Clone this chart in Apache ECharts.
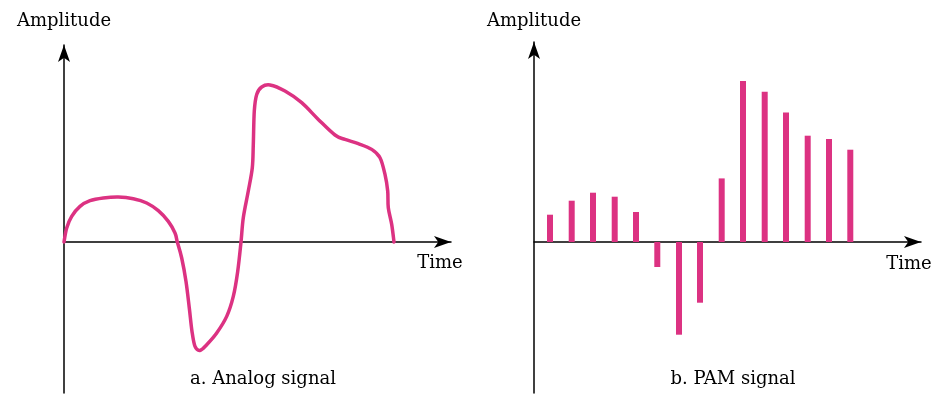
<!DOCTYPE html>
<html>
<head>
<meta charset="utf-8">
<style>
html,body{margin:0;padding:0;background:#fff;}
#chart{width:946px;height:404px;}
</style>
<script src="https://cdn.jsdelivr.net/npm/echarts@6/dist/echarts.min.js"></script>
</head>
<body>
<div id="chart"></div>
<script>
// Analog signal: [time, amplitude]
var analogTime = [0, 2.7, 7.7, 16, 26, 39.3, 54.3, 69.3, 82.7, 94.3, 104.3, 111, 113.3, 117.7, 122, 125.3, 128, 131, 136, 142.7, 152.7, 162.7, 169.3, 173.7, 177, 179.3, 184.3, 188.3, 189.3, 190.3, 192.7, 197.7, 206, 221, 237.7, 254.3, 271, 281, 294.3, 307.7, 316, 321, 323.7, 324.3, 327.7, 330];
var analogAmp  = [0, 14, 25.6, 35.6, 41.3, 44, 45, 43.3, 39, 31.3, 20.6, 9, 0, -16, -39.4, -66, -89.4, -104.4, -108.4, -102.7, -91, -74.4, -54.4, -29.4, 0, 24.3, 51, 74.3, 97.6, 131, 147.6, 155, 157, 151, 139.3, 122.6, 107, 102.6, 98.3, 92.6, 84.3, 67.6, 51, 34.3, 17.6, 0];
// PAM samples
var pamTime = [16, 37.7, 59, 80.7, 102, 123.3, 145, 166, 187.7, 209, 230.7, 252, 273.7, 295, 316.3];
var pamAmp  = [27.3, 41.3, 49.3, 45.3, 30, -25, -92.7, -60.7, 63.6, 161, 150.3, 129.6, 106.3, 103, 92.3];
var axisTitle = 'Amplitude';
var timeTitle = 'Time';
var captionA = 'a. Analog signal';
var captionB = 'b. PAM signal';

var pink = '#dc3282';
var font = 'DejaVu Serif';
var chart = echarts.init(document.getElementById('chart'), null, {renderer: 'canvas'});

function axisLine() {
  return {show: true, onZero: true, symbol: ['none', 'arrow'], symbolSize: [9, 17], lineStyle: {color: '#000', width: 1.5}};
}

// Smooth curve through the data points (Catmull-Rom), positioned by the axes
function renderAnalog(params, api) {
  var pts = analogTime.map(function (t, i) { return api.coord([t, analogAmp[i]]); });
  var n = pts.length;
  var d = 'M' + pts[0][0] + ' ' + pts[0][1];
  for (var i = 0; i < n - 1; i++) {
    var p0 = pts[Math.max(i - 1, 0)], p1 = pts[i], p2 = pts[i + 1], p3 = pts[Math.min(i + 2, n - 1)];
    var c1x = p1[0] + (p2[0] - p0[0]) / 6, c1y = p1[1] + (p2[1] - p0[1]) / 6;
    var c2x = p2[0] - (p3[0] - p1[0]) / 6, c2y = p2[1] - (p3[1] - p1[1]) / 6;
    d += ' C' + c1x + ' ' + c1y + ' ' + c2x + ' ' + c2y + ' ' + p2[0] + ' ' + p2[1];
  }
  return {
    type: 'path',
    shape: {pathData: d},
    style: {fill: null, stroke: pink, lineWidth: 3.5, lineJoin: 'round', lineCap: 'round'}
  };
}

chart.setOption({
  animation: false,
  grid: [
    {left: 64, top: 45, width: 387, height: 348},
    {left: 534, top: 42, width: 387, height: 351}
  ],
  xAxis: [
    {gridIndex: 0, type: 'value', min: 0, max: 387, axisLine: axisLine(), axisTick: {show: false}, axisLabel: {show: false}, splitLine: {show: false}},
    {gridIndex: 1, type: 'value', min: 0, max: 387, axisLine: axisLine(), axisTick: {show: false}, axisLabel: {show: false}, splitLine: {show: false}}
  ],
  yAxis: [
    {gridIndex: 0, type: 'value', min: -151, max: 197, name: axisTitle, nameLocation: 'end', nameGap: 15,
     nameTextStyle: {fontFamily: font, fontSize: 18, color: '#000'},
     axisLine: axisLine(), axisTick: {show: false}, axisLabel: {show: false}, splitLine: {show: false}},
    {gridIndex: 1, type: 'value', min: -151, max: 200, name: axisTitle, nameLocation: 'end', nameGap: 12,
     nameTextStyle: {fontFamily: font, fontSize: 18, color: '#000'},
     axisLine: axisLine(), axisTick: {show: false}, axisLabel: {show: false}, splitLine: {show: false}}
  ],
  series: [
    {type: 'custom', xAxisIndex: 0, yAxisIndex: 0, clip: false, renderItem: renderAnalog,
     data: [[analogTime[0], analogAmp[0]]]},
    {type: 'bar', xAxisIndex: 1, yAxisIndex: 1, barWidth: 6,
     data: pamTime.map(function (t, i) { return [t, pamAmp[i]]; }),
     itemStyle: {color: pink}}
  ],
  graphic: [
    {type: 'text', x: 440, y: 263, style: {text: timeTitle, font: '18px "DejaVu Serif"', fill: '#000', textAlign: 'center', textVerticalAlign: 'middle'}},
    {type: 'text', x: 909, y: 264, style: {text: timeTitle, font: '18px "DejaVu Serif"', fill: '#000', textAlign: 'center', textVerticalAlign: 'middle'}},
    {type: 'text', x: 263, y: 379, style: {text: captionA, font: '18px "DejaVu Serif"', fill: '#000', textAlign: 'center', textVerticalAlign: 'middle'}},
    {type: 'text', x: 733, y: 379, style: {text: captionB, font: '18px "DejaVu Serif"', fill: '#000', textAlign: 'center', textVerticalAlign: 'middle'}}
  ]
});
</script>
</body>
</html>
